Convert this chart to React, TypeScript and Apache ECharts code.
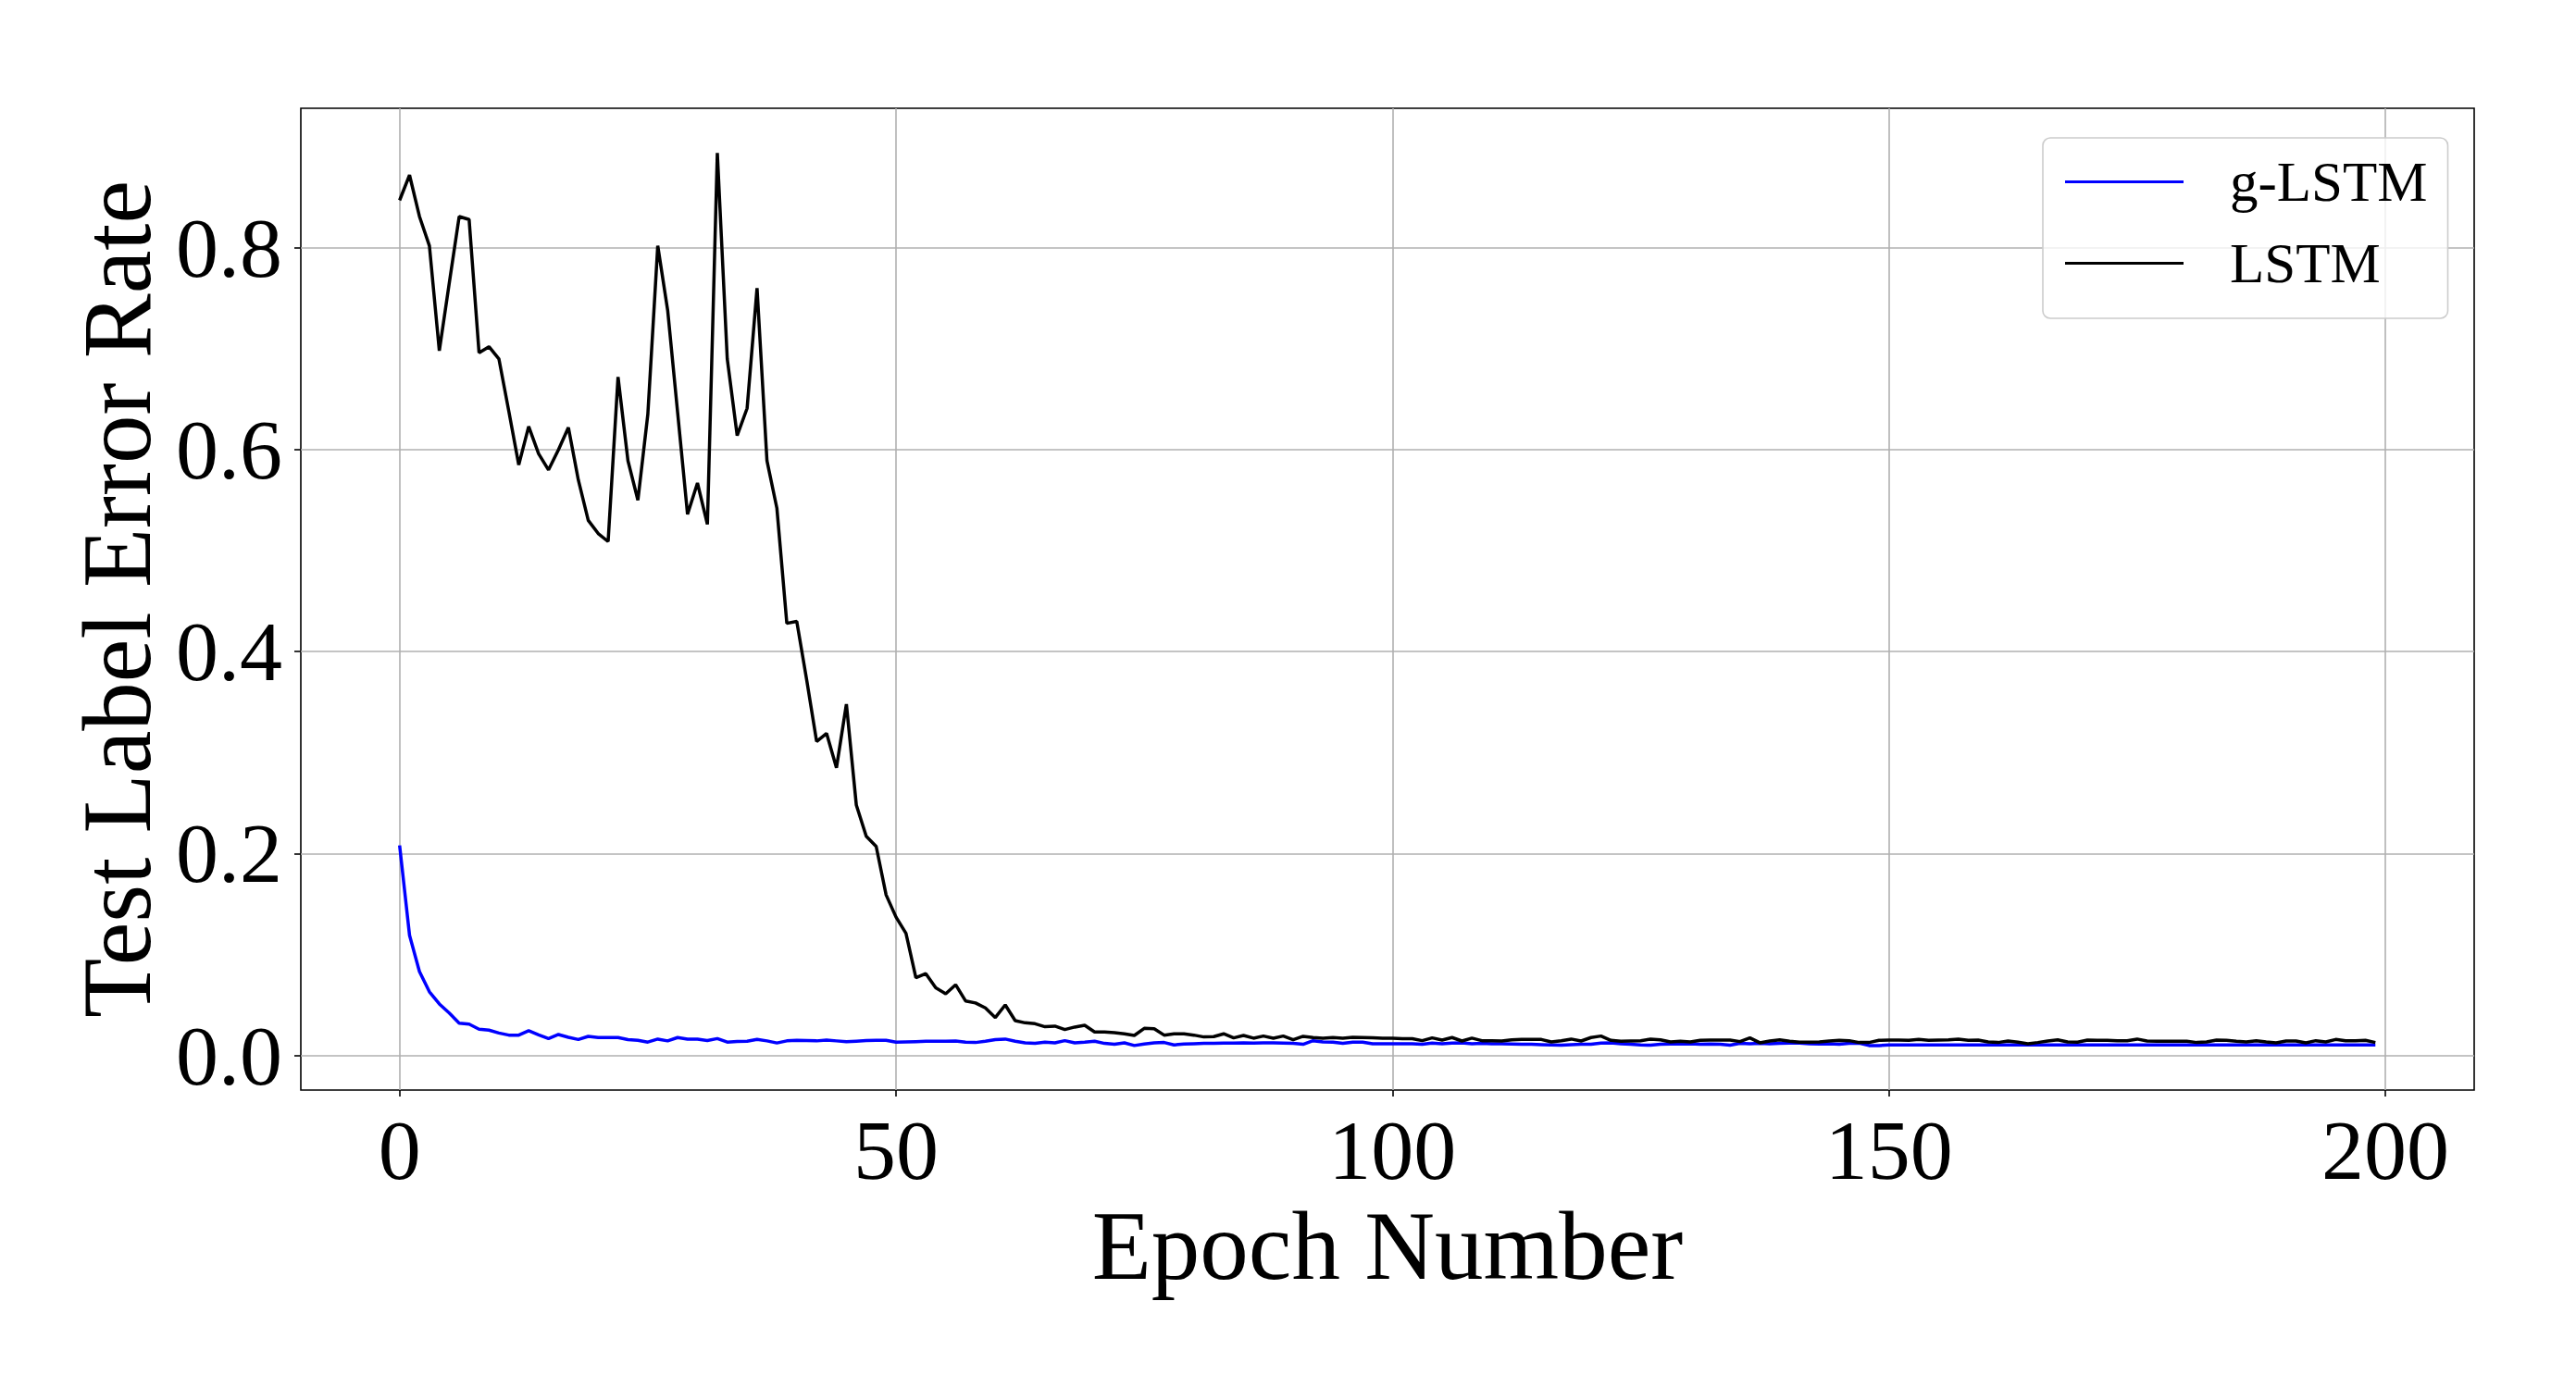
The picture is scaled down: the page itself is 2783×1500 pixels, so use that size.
import React, { useEffect, useRef } from "react";
import * as echarts from "echarts";

const EPOCHS: number[] = Array.from({ length: 200 }, (_, i) => i);

const G_LSTM: number[] = [
  0.208, 0.119, 0.083, 0.063, 0.051, 0.042, 0.032, 0.031, 0.026, 0.025,
  0.0222, 0.0201, 0.0201, 0.0244, 0.0204, 0.0167, 0.0207, 0.018, 0.0158, 0.0189,
  0.0177, 0.0177, 0.0177, 0.0156, 0.015, 0.0132, 0.0162, 0.0144, 0.0177, 0.0162,
  0.0162, 0.0147, 0.0167, 0.0132, 0.0138, 0.0141, 0.0158, 0.0144, 0.0123, 0.0144,
  0.015, 0.0147, 0.0144, 0.0153, 0.0144, 0.0135, 0.0141, 0.0147, 0.015, 0.015,
  0.0131, 0.0134, 0.0137, 0.014, 0.014, 0.014, 0.0143, 0.0131, 0.0128, 0.014,
  0.0156, 0.0162, 0.014, 0.0125, 0.0119, 0.0131, 0.0125, 0.0146, 0.0125, 0.0131,
  0.014, 0.0119, 0.011, 0.0125, 0.0098, 0.0113, 0.0125, 0.0128, 0.0104, 0.0113,
  0.0116, 0.0119, 0.0119, 0.0122, 0.0122, 0.0125, 0.0122, 0.0125, 0.0125, 0.0122,
  0.0119, 0.011, 0.0146, 0.0134, 0.0131, 0.0119, 0.0131, 0.0131, 0.0116, 0.0116,
  0.0116, 0.0116, 0.0116, 0.011, 0.0122, 0.0116, 0.0122, 0.0125, 0.0116, 0.0119,
  0.0116, 0.0116, 0.0113, 0.011, 0.011, 0.0107, 0.0104, 0.0101, 0.0107, 0.011,
  0.011, 0.0122, 0.0125, 0.0116, 0.011, 0.0104, 0.0101, 0.011, 0.0113, 0.0113,
  0.0116, 0.011, 0.0113, 0.011, 0.0101, 0.0119, 0.0116, 0.0119, 0.0116, 0.0119,
  0.0122, 0.0122, 0.0116, 0.0113, 0.0116, 0.011, 0.0119, 0.0122, 0.0098, 0.0098,
  0.0103, 0.0103, 0.0103, 0.0103, 0.0103, 0.0103, 0.0103, 0.0103, 0.0103, 0.0103,
  0.0103, 0.0103, 0.0103, 0.0103, 0.0103, 0.0103, 0.0103, 0.0103, 0.0103, 0.0103,
  0.0103, 0.0103, 0.0103, 0.0103, 0.0103, 0.0103, 0.0103, 0.0103, 0.0103, 0.0103,
  0.0103, 0.0103, 0.0103, 0.0103, 0.0103, 0.0103, 0.0103, 0.0103, 0.0103, 0.0103,
  0.0103, 0.0103, 0.0103, 0.0103, 0.0103, 0.0103, 0.0103, 0.0103, 0.0103, 0.0103,
];

const LSTM: number[] = [
  0.847, 0.872, 0.831, 0.802, 0.698, 0.765, 0.831, 0.828, 0.696, 0.702,
  0.69, 0.638, 0.585, 0.623, 0.596, 0.58, 0.6, 0.622, 0.57, 0.53,
  0.517, 0.509, 0.672, 0.589, 0.55, 0.635, 0.802, 0.738, 0.637, 0.536,
  0.567, 0.526, 0.894, 0.69, 0.614, 0.641, 0.76, 0.589, 0.542, 0.428,
  0.43, 0.372, 0.311, 0.319, 0.285, 0.348, 0.248, 0.217, 0.207, 0.159,
  0.137, 0.121, 0.077, 0.081, 0.067, 0.061, 0.07, 0.054, 0.052, 0.047,
  0.0375, 0.05, 0.0345, 0.0323, 0.0314, 0.0284, 0.029, 0.0256, 0.0281, 0.0299,
  0.0232, 0.0232, 0.0226, 0.0214, 0.0198, 0.0268, 0.0265, 0.0201, 0.0214, 0.0214,
  0.0201, 0.0183, 0.0186, 0.0214, 0.0174, 0.0198, 0.0171, 0.0192, 0.0171, 0.0192,
  0.0156, 0.0189, 0.0177, 0.0171, 0.0177, 0.0171, 0.018, 0.0177, 0.0174, 0.0171,
  0.0171, 0.0165, 0.0165, 0.0146, 0.0174, 0.0152, 0.0177, 0.0143, 0.0171, 0.0146,
  0.0146, 0.0143, 0.0155, 0.0158, 0.0158, 0.0158, 0.0134, 0.0146, 0.0162, 0.0143,
  0.0177, 0.0192, 0.0149, 0.014, 0.0143, 0.0146, 0.0162, 0.0155, 0.0134, 0.014,
  0.0134, 0.0149, 0.0152, 0.0152, 0.0152, 0.0137, 0.0174, 0.0125, 0.0143, 0.0155,
  0.014, 0.0131, 0.0131, 0.0134, 0.0143, 0.0149, 0.0146, 0.0128, 0.0128, 0.0149,
  0.0152, 0.0152, 0.0149, 0.0158, 0.0149, 0.0152, 0.0155, 0.0162, 0.0149, 0.0152,
  0.0134, 0.0128, 0.0143, 0.0131, 0.0116, 0.0128, 0.0143, 0.0155, 0.0134, 0.0131,
  0.0152, 0.0149, 0.0149, 0.0146, 0.0146, 0.0162, 0.0143, 0.014, 0.014, 0.014,
  0.014, 0.0128, 0.0134, 0.0152, 0.0149, 0.014, 0.0134, 0.0146, 0.0134, 0.0125,
  0.0143, 0.0143, 0.0125, 0.0146, 0.0134, 0.0158, 0.0146, 0.0146, 0.0149, 0.0128,
];

const X_TICKS: number[] = [0, 50, 100, 150, 200];
const Y_TICKS: number[] = [0, 0.2, 0.4, 0.6, 0.8];
const SERIES_NAMES: string[] = ["g-LSTM", "LSTM"];
const X_TITLE = "Epoch Number";
const Y_TITLE = "Test Label Error Rate";

const FONT = "'Liberation Serif', 'DejaVu Serif', serif";

export default function App() {
  const ref = useRef<HTMLDivElement>(null);

  useEffect(() => {
    if (!ref.current) return;
    const chart = echarts.init(ref.current, undefined, { renderer: "svg" });
    const pairs = (vals: number[]) => EPOCHS.map((e, i) => [e, vals[i]]);
    chart.setOption({
      animation: false,
      backgroundColor: "#ffffff",
      grid: {
        left: 325,
        top: 117,
        width: 2348,
        height: 1061,
        show: true,
        borderColor: "#000000",
        borderWidth: 1.6,
        backgroundColor: "transparent",
      },
      legend: {
        orient: "vertical",
        left: 2207,
        top: 149,
        padding: [17, 22, 29, 24],
        itemGap: 27,
        itemWidth: 128,
        itemHeight: 3,
        icon: "rect",
        backgroundColor: "rgba(255,255,255,0.8)",
        borderColor: "#cccccc",
        borderWidth: 1.6,
        borderRadius: 8,
        data: SERIES_NAMES,
        textStyle: {
          fontFamily: FONT,
          fontSize: 61,
          lineHeight: 60,
          color: "#000000",
          padding: [0, 0, 0, 45],
        },
      },
      xAxis: {
        type: "value",
        min: -9.95,
        max: 208.95,
        name: X_TITLE,
        nameLocation: "middle",
        nameGap: 100,
        nameTextStyle: { fontFamily: FONT, fontSize: 105, lineHeight: 105, color: "#000000" },
        axisLine: { show: false, onZero: false },
        axisTick: {
          show: true,
          length: 7,
          customValues: X_TICKS,
          lineStyle: { color: "#000000", width: 1.6 },
        },
        axisLabel: {
          customValues: X_TICKS,
          margin: 19,
          fontFamily: FONT,
          fontSize: 92,
          lineHeight: 92,
          color: "#000000",
          formatter: (v: number) => String(Math.round(v)),
        },
        splitLine: { show: true, lineStyle: { color: "#b0b0b0", width: 1.6 } },
      },
      yAxis: {
        type: "value",
        min: -0.0343,
        max: 0.9382,
        name: Y_TITLE,
        nameLocation: "middle",
        nameGap: 143,
        nameTextStyle: { fontFamily: FONT, fontSize: 105, lineHeight: 105, color: "#000000" },
        axisLine: { show: false, onZero: false },
        axisTick: {
          show: true,
          length: 7,
          customValues: Y_TICKS,
          lineStyle: { color: "#000000", width: 1.6 },
        },
        axisLabel: {
          customValues: Y_TICKS,
          margin: 20,
          fontFamily: FONT,
          fontSize: 92,
          lineHeight: 92,
          color: "#000000",
          formatter: (v: number) => v.toFixed(1),
        },
        splitLine: { show: true, lineStyle: { color: "#b0b0b0", width: 1.6 } },
      },
      series: [
        {
          name: SERIES_NAMES[0],
          type: "line",
          data: pairs(G_LSTM),
          symbol: "none",
          color: "#0000ff",
          lineStyle: { color: "#0000ff", width: 3.5 },
          silent: true,
        },
        {
          name: SERIES_NAMES[1],
          type: "line",
          data: pairs(LSTM),
          symbol: "none",
          color: "#000000",
          lineStyle: { color: "#000000", width: 3.5 },
          silent: true,
        },
      ],
    });
    return () => chart.dispose();
  }, []);

  return (
    <div
      ref={ref}
      style={{ position: "absolute", left: 0, top: 0, width: 2783, height: 1500, background: "#fff" }}
    />
  );
}
